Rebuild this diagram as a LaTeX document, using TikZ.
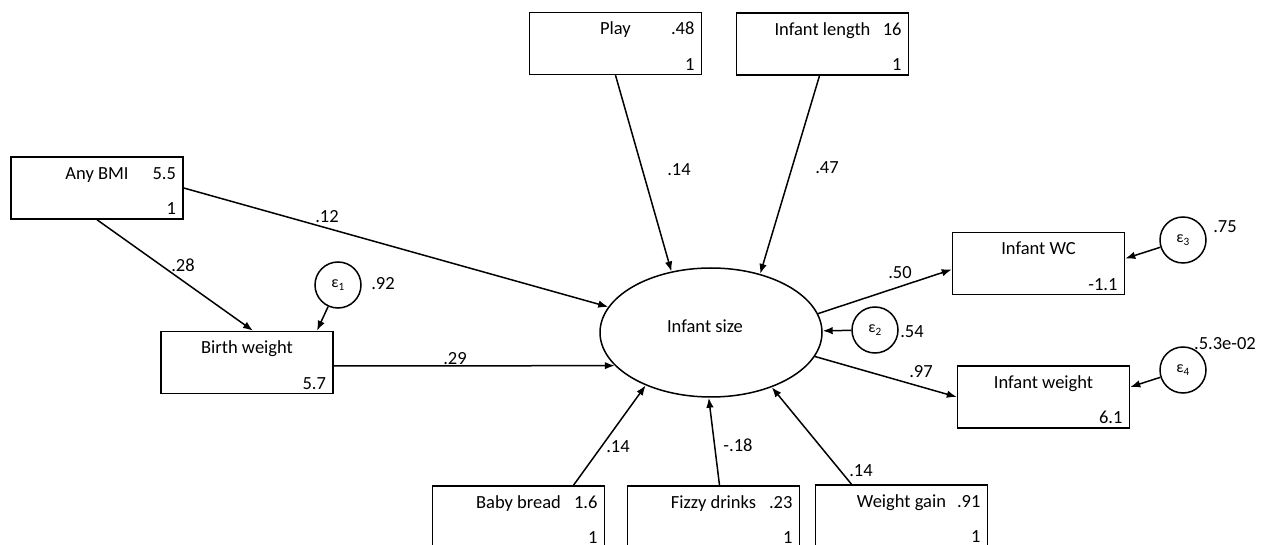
\documentclass[tikz,border=0pt]{standalone}
\usepackage{fontspec}
\setmainfont{Carlito}
\usetikzlibrary{arrows.meta,shapes.geometric}

% observed variable: box, name and variance
\newcommand{\obsvar}[4]{%
  \node[obs] (#1) at (#2) {};
  \node[anchor=base] (#1-name) at ([yshift=-23pt]#1.north) {#3};
  \node[anchor=base east] (#1-var) at ([xshift=-7pt,yshift=5pt]#1.south east) {#4};
}
% mean of an exogenous variable
\newcommand{\obsmean}[2]{%
  \node[anchor=base east] (#1-mean) at ([xshift=-7pt,yshift=-23pt]#1.north east) {#2};
}

\begin{document}
\begin{tikzpicture}[x=1pt,y=-1pt,line width=1.5pt,
    >={Latex[length=10pt,width=7.5pt]},
    every node/.style={inner sep=0pt,font=\fontsize{18.5}{22}\selectfont},
    obs/.style={draw,rectangle,minimum width=172pt,minimum height=62pt},
    latent/.style={draw,ellipse,minimum width=222pt,minimum height=129pt},
    err/.style={draw,circle,minimum size=46pt,font=\fontsize{16}{18}\selectfont}]
        \useasboundingbox (0,0) rectangle (1262,545);
        \clip (0,0) rectangle (1262,545);

        % draw boxes
        \obsvar{play}{615.5,43.5}{Play}{1}
        \obsvar{length}{822.5,44}{Infant length}{1}
        \obsvar{bmi}{97,188}{Any BMI}{1}
        \obsvar{birth}{247,362.5}{Birth weight}{5.7}
        \obsvar{wc}{1038.5,263.5}{Infant WC}{-1.1}
        \obsvar{weight}{1043.5,397}{Infant weight}{6.1}
        \obsvar{bread}{518.5,517}{Baby bread}{1}
        \obsvar{fizzy}{713.5,517}{Fizzy drinks}{1}
        \obsvar{gain}{901.5,516}{Weight gain}{1}
        \obsmean{play}{.48}
        \obsmean{length}{16}
        \obsmean{bmi}{5.5}
        \obsmean{bread}{1.6}
        \obsmean{fizzy}{.23}
        \obsmean{gain}{.91}

        % draw latent and errors
        \node[latent] (size) at (711,332.5) {};
        \node[anchor=base] (size-name) at ([xshift=-6pt]size.center) {Infant size};
        \node[err] (e1) at (338,285) {ε\textsubscript{1}};
        \node[err] (e2) at (875,330) {ε\textsubscript{2}};
        \node[err] (e3) at (1183,240) {ε\textsubscript{3}};
        \node[err] (e4) at (1183,370) {ε\textsubscript{4}};

        % draw paths
        \draw[->] (play.south) -- (size.123.5);
        \draw[->] ([xshift=-3pt]length.south) -- (size.50.8);
        \draw[->] (bmi.east) -- (size.166.4);
        \draw[->] (bmi.south) -- ([xshift=6pt]birth.north);
        \draw[->] (e1) -- ([xshift=70pt]birth.north);
        \draw[->] ([yshift=-3.5pt]birth.east) -- (size.199.6);
        \draw[->] ([xshift=55pt]bread.north) -- (size.219.2);
        \draw[->] ([xshift=6pt]fizzy.north) -- (size.268);
        \draw[->] ([xshift=-50pt]gain.north) -- (size.318.2);
        \draw[->] (e2) -- (size);
        \draw[->] (size.10.2) -- ([yshift=-6pt]wc.west);
        \draw[->] (size.347) -- (weight.west);
        \draw[->] (e3) -- ([yshift=5pt]wc.east);
        \draw[->] (e4) -- ([yshift=10pt]weight.east);

        % draw coefficients
        \node (c-play) at (679,170) {.14};
        \node (c-length) at (827,168) {.47};
        \node (c-bmi) at (327,217) {.12};
        \node (c-bmibirth) at (183,265) {.28};
        \node (c-e1) at (383,284) {.92};
        \node (c-birth) at (455,359) {.29};
        \node (c-wc) at (900,273) {.50};
        \node (c-e2) at (912,332) {.54};
        \node (c-weight) at (921,372) {.97};
        \node (c-e3) at (1225,227) {.75};
        \node (c-e4) at (1225,344) {.5.3e-02};
        \node (c-bread) at (618,447) {.14};
        \node (c-fizzy) at (738,445) {-.18};
        \node (c-gain) at (861,471) {.14};
\end{tikzpicture}
\end{document}
